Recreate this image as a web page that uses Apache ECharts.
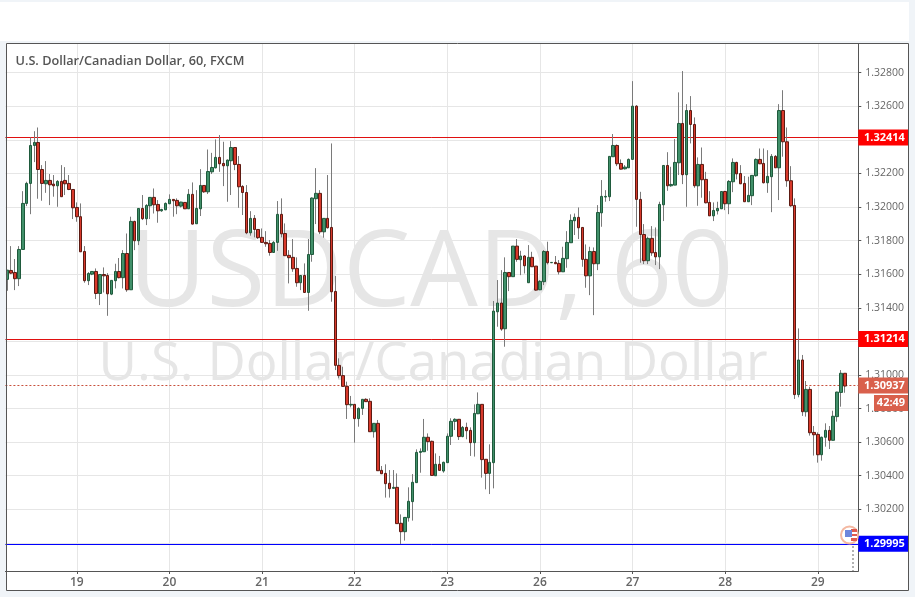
<!DOCTYPE html>
<html>
<head>
<meta charset="utf-8">
<style>html,body{margin:0;padding:0;background:#fff}#chart{width:915px;height:597px}</style>
<script src="https://cdn.jsdelivr.net/npm/echarts@6/dist/echarts.min.js"></script>
</head>
<body>
<div id="chart"></div>
<script>
const dayLabels = ['19','20','21','22','23','26','27','28','29'];
const firstDayIndex = 18;
const barsPerDay = 24;
const slotCount = 221;
const priceTicks = [1.3,1.302,1.304,1.306,1.308,1.31,1.312,1.314,1.316,1.318,1.32,1.322,1.324,1.326,1.328];
const levelLines = [1.32414, 1.31214, 1.29995];
const lastPrice = 1.30937;
const countdown = '42:49';
const opens = [
1.31569,1.31622,1.31610,1.31573,1.31747,1.32021,1.32140,1.32366,1.32384,1.32223,
1.32138,1.32158,1.32136,1.32126,1.32152,1.32158,1.32140,1.32104,1.31997,1.31942,
1.31735,1.31561,1.31600,1.31616,1.31485,1.31598,1.31592,1.31481,1.31561,1.31616,
1.31579,1.31723,1.31507,1.31914,1.31799,1.31991,1.31930,1.32007,1.32057,1.32015,
1.31977,1.31983,1.32019,1.32045,1.32039,1.32005,1.32027,1.31989,1.32075,1.31900,
1.31989,1.32128,1.32090,1.32209,1.32233,1.32295,1.32259,1.32245,1.32275,1.32354,
1.32253,1.32122,1.32086,1.31846,1.31932,1.31866,1.31819,1.31789,1.31783,1.31729,
1.31789,1.31956,1.31842,1.31712,1.31700,1.31634,1.31549,1.31592,1.31491,1.31717,
1.32049,1.32081,1.31852,1.31932,1.31878,1.31497,1.31057,1.30996,1.30932,1.30821,
1.30825,1.30740,1.30801,1.30855,1.30843,1.30662,1.30712,1.30432,1.30414,1.30355,
1.30325,1.30331,1.30117,1.30067,1.30150,1.30246,1.30359,1.30539,1.30543,1.30629,
1.30605,1.30400,1.30468,1.30428,1.30478,1.30635,1.30724,1.30736,1.30633,1.30688,
1.30670,1.30597,1.30769,1.30825,1.30498,1.30414,1.30478,1.31376,1.31428,1.31275,
1.31610,1.31585,1.31767,1.31686,1.31708,1.31549,1.31700,1.31648,1.31507,1.31555,
1.31735,1.31668,1.31670,1.31664,1.31614,1.31692,1.31787,1.31918,1.31938,1.31878,
1.31688,1.31590,1.31735,1.31662,1.31965,1.32059,1.32061,1.32299,1.32366,1.32259,
1.32227,1.32233,1.32283,1.32600,1.32045,1.31836,1.31680,1.31813,1.31729,1.31703,
1.32013,1.32247,1.32126,1.32130,1.32263,1.32497,1.32192,1.32574,1.32491,1.32126,
1.32253,1.32164,1.32027,1.31947,1.31977,1.31989,1.32092,1.32019,1.32150,1.32265,
1.32199,1.32140,1.32031,1.32067,1.32186,1.32283,1.32259,1.32144,1.32180,1.32301,
1.32233,1.32574,1.32388,1.32156,1.32009,1.30883,1.31089,1.30781,1.30914,1.30658,
1.30646,1.30525,1.30629,1.30670,1.30611,1.30752,1.30896,1.31010];
const closes = [
1.31624,1.31606,1.31573,1.31747,1.32021,1.32140,1.32366,1.32384,1.32223,1.32140,
1.32158,1.32132,1.32126,1.32152,1.32061,1.32138,1.32104,1.31995,1.31942,1.31733,
1.31561,1.31604,1.31616,1.31485,1.31598,1.31590,1.31483,1.31563,1.31616,1.31579,
1.31723,1.31507,1.31914,1.31799,1.31991,1.31930,1.32009,1.32057,1.32013,1.31977,
1.31985,1.32021,1.32045,1.32037,1.32007,1.32029,1.31989,1.32075,1.31898,1.31991,
1.32128,1.32090,1.32211,1.32235,1.32295,1.32257,1.32245,1.32279,1.32354,1.32253,
1.32120,1.32086,1.31846,1.31932,1.31866,1.31817,1.31789,1.31781,1.31729,1.31789,
1.31956,1.31840,1.31710,1.31698,1.31632,1.31549,1.31592,1.31491,1.31717,1.32053,
1.32081,1.31852,1.31932,1.31876,1.31495,1.31057,1.30996,1.30932,1.30823,1.30825,
1.30740,1.30801,1.30855,1.30841,1.30662,1.30712,1.30430,1.30412,1.30353,1.30323,
1.30331,1.30115,1.30067,1.30152,1.30248,1.30361,1.30539,1.30545,1.30629,1.30603,
1.30402,1.30468,1.30432,1.30480,1.30635,1.30724,1.30736,1.30633,1.30688,1.30668,
1.30597,1.30771,1.30825,1.30496,1.30414,1.30480,1.31380,1.31428,1.31273,1.31610,
1.31585,1.31767,1.31688,1.31708,1.31650,1.31700,1.31644,1.31505,1.31557,1.31735,
1.31668,1.31670,1.31662,1.31614,1.31694,1.31789,1.31920,1.31938,1.31876,1.31688,
1.31590,1.31735,1.31662,1.31967,1.32063,1.32063,1.32301,1.32366,1.32257,1.32225,
1.32237,1.32283,1.32600,1.32045,1.31836,1.31680,1.31813,1.31727,1.31703,1.32015,
1.32247,1.32126,1.32134,1.32265,1.32497,1.32192,1.32574,1.32491,1.32126,1.32253,
1.32162,1.32025,1.31947,1.31979,1.31991,1.32092,1.32019,1.32152,1.32265,1.32197,
1.32138,1.32031,1.32069,1.32188,1.32283,1.32257,1.32144,1.32182,1.32301,1.32233,
1.32574,1.32388,1.32156,1.32007,1.30883,1.31089,1.30781,1.30914,1.30656,1.30644,
1.30525,1.30629,1.30670,1.30611,1.30754,1.30898,1.31010,1.30934];
const lows = [
1.31501,1.31600,1.31505,1.31529,1.31747,1.32005,1.31957,1.32267,1.32049,1.32037,
1.32084,1.32011,1.32061,1.32001,1.32061,1.32071,1.32100,1.31928,1.31912,1.31733,
1.31549,1.31535,1.31594,1.31452,1.31416,1.31491,1.31352,1.31475,1.31515,1.31575,
1.31515,1.31495,1.31507,1.31743,1.31773,1.31922,1.31892,1.31928,1.31961,1.31906,
1.31971,1.31981,1.32017,1.31942,1.31957,1.31997,1.31989,1.31989,1.31896,1.31900,
1.31946,1.32084,1.32077,1.32196,1.32229,1.32209,1.32124,1.32031,1.32071,1.32219,
1.31995,1.31952,1.31838,1.31829,1.31819,1.31809,1.31787,1.31763,1.31710,1.31727,
1.31739,1.31819,1.31708,1.31545,1.31614,1.31525,1.31505,1.31491,1.31382,1.31674,
1.31898,1.31838,1.31817,1.31872,1.31436,1.31029,1.30980,1.30930,1.30738,1.30807,
1.30597,1.30692,1.30762,1.30841,1.30662,1.30627,1.30430,1.30410,1.30270,1.30270,
1.30325,1.30115,1.29994,1.30014,1.30127,1.30133,1.30359,1.30418,1.30543,1.30549,
1.30402,1.30400,1.30430,1.30418,1.30478,1.30583,1.30672,1.30613,1.30629,1.30617,
1.30518,1.30514,1.30767,1.30389,1.30319,1.30291,1.30325,1.31287,1.31263,1.31168,
1.31499,1.31585,1.31674,1.31594,1.31604,1.31549,1.31644,1.31501,1.31505,1.31535,
1.31658,1.31666,1.31660,1.31598,1.31614,1.31638,1.31787,1.31833,1.31809,1.31644,
1.31519,1.31475,1.31356,1.31624,1.31882,1.32031,1.32035,1.32299,1.32243,1.32223,
1.32223,1.32233,1.32283,1.31882,1.31668,1.31660,1.31660,1.31709,1.31654,1.31630,
1.31916,1.32096,1.32120,1.32130,1.32190,1.32136,1.32001,1.32378,1.32114,1.32007,
1.32055,1.32021,1.31947,1.31916,1.31955,1.31989,1.31981,1.31957,1.32088,1.32164,
1.32136,1.32031,1.32031,1.32011,1.32180,1.32255,1.32140,1.32084,1.31969,1.32233,
1.32041,1.32299,1.32120,1.32001,1.30857,1.30867,1.30756,1.30752,1.30639,1.30520,
1.30478,1.30490,1.30573,1.30559,1.30611,1.30722,1.30811,1.30894];
const highs = [
1.31624,1.31767,1.31690,1.31767,1.32094,1.32150,1.32414,1.32451,1.32473,1.32249,
1.32273,1.32196,1.32190,1.32160,1.32249,1.32237,1.32190,1.32104,1.32027,1.32021,
1.31767,1.31612,1.31616,1.31634,1.31598,1.31640,1.31606,1.31563,1.31662,1.31696,
1.31743,1.31842,1.31942,1.31918,1.31991,1.32071,1.32017,1.32057,1.32110,1.32041,
1.31989,1.32027,1.32075,1.32045,1.32051,1.32031,1.32027,1.32106,1.32146,1.32100,
1.32225,1.32128,1.32342,1.32322,1.32402,1.32428,1.32388,1.32283,1.32392,1.32354,
1.32303,1.32130,1.32130,1.31975,1.31952,1.31866,1.31872,1.31856,1.31803,1.31797,
1.32035,1.32051,1.31902,1.31743,1.31809,1.31700,1.31592,1.31664,1.31809,1.32057,
1.32231,1.32100,1.31932,1.32190,1.32378,1.31589,1.31099,1.31049,1.30960,1.30875,
1.30825,1.30807,1.30855,1.30861,1.30861,1.30712,1.30732,1.30458,1.30468,1.30434,
1.30434,1.30414,1.30170,1.30152,1.30331,1.30410,1.30557,1.30563,1.30738,1.30652,
1.30609,1.30533,1.30518,1.30484,1.30652,1.30742,1.30742,1.30736,1.30696,1.30716,
1.30688,1.30825,1.30896,1.30825,1.30498,1.30587,1.31440,1.31565,1.31624,1.31700,
1.31610,1.31767,1.31809,1.31739,1.31713,1.31773,1.31733,1.31648,1.31565,1.31743,
1.31793,1.31672,1.31708,1.31684,1.31763,1.31856,1.31956,1.31961,1.31997,1.31878,
1.31777,1.31763,1.31759,1.32011,1.32160,1.32100,1.32301,1.32434,1.32372,1.32283,
1.32249,1.32289,1.32749,1.32606,1.32090,1.31898,1.31823,1.31886,1.31878,1.32031,
1.32247,1.32326,1.32239,1.32404,1.32682,1.32809,1.32612,1.32660,1.32533,1.32295,
1.32354,1.32209,1.32094,1.32027,1.32031,1.32092,1.32096,1.32160,1.32289,1.32269,
1.32249,1.32184,1.32180,1.32188,1.32289,1.32348,1.32348,1.32338,1.32315,1.32309,
1.32612,1.32695,1.32473,1.32243,1.32051,1.31277,1.31119,1.30964,1.30930,1.30696,
1.30658,1.30633,1.30712,1.30696,1.30787,1.30900,1.31029,1.31010];

const FONT = '"Open Sans", sans-serif';
const slots = Array.from({length: slotCount}, (_, i) => {
  const k = (i - firstDayIndex) / barsPerDay;
  return Number.isInteger(k) && k >= 0 && k < dayLabels.length ? dayLabels[k] : '';
});
const wickData = opens.map((o, i) => [o, closes[i], lows[i], highs[i]]);
const bodyData = opens.map((o, i) => [o, closes[i], Math.min(o, closes[i]), Math.max(o, closes[i])]);
const isDay = (i, v) => v !== '';

const levelSeries = (name, value, lineColor, badgeColor, lineType) => ({
  name, type: 'line', data: [], z: 1, color: lineColor, silent: true,
  markLine: {
    silent: true, symbol: 'none', z: 1, animation: false, precision: 5,
    lineStyle: {color: lineColor, width: 1, type: lineType, opacity: 1},
    label: {
      show: true, position: 'end', distance: 0, color: '#fff', fontFamily: FONT, fontSize: 11, fontWeight: 'bold',
      backgroundColor: badgeColor, width: 50, height: 16, lineHeight: 16, align: 'left', verticalAlign: 'middle', padding: 0,
      formatter: (p) => '  ' + Number(p.value).toFixed(5)
    },
    data: [{yAxis: value}]
  }
});

const chart = echarts.init(document.getElementById('chart'), null, {renderer: 'canvas'});
chart.setOption({
  animation: false,
  backgroundColor: '#ffffff',
  grid: {left: 5.4, width: 852.9, top: 44, height: 527, containLabel: false},
  xAxis: {
    type: 'category', data: slots, boundaryGap: true,
    axisLine: {show: true, lineStyle: {color: '#555555', width: 1}},
    axisTick: {show: true, alignWithLabel: true, interval: isDay, length: 3, lineStyle: {color: '#555555'}},
    axisLabel: {show: true, interval: isDay, color: '#666666', fontFamily: FONT, fontSize: 12, fontWeight: 600, margin: 6},
    splitLine: {show: true, alignWithLabel: true, interval: isDay, lineStyle: {color: '#e6e6e6', width: 1}}
  },
  yAxis: {
    type: 'value', position: 'right', min: 1.29833, max: 1.3297, scale: true,
    axisLine: {show: true, lineStyle: {color: '#555555', width: 1}},
    axisTick: {show: true, customValues: priceTicks, length: 3, lineStyle: {color: '#555555'}},
    axisLabel: {show: true, customValues: priceTicks, color: '#666666', fontFamily: FONT, fontSize: 10.5, margin: 7,
      formatter: (v) => v.toFixed(5)},
    splitLine: {show: true, lineStyle: {color: '#e6e6e6', width: 1}}
  },
  series: [
    levelSeries('resistance', levelLines[0], '#e01010', '#ff0000', 'solid'),
    levelSeries('pivot', levelLines[1], '#e01010', '#ff0000', 'solid'),
    levelSeries('support', levelLines[2], '#0000ff', '#0000ff', 'solid'),
    levelSeries('last', lastPrice, '#c8503c', '#d9604c', [2, 2]),
    {
      name: 'wicks', type: 'candlestick', data: wickData, barWidth: 1, z: 2,
      itemStyle: {color: '#7a7a7a', color0: '#7a7a7a', borderColor: '#7a7a7a', borderColor0: '#7a7a7a', borderColorDoji: '#7a7a7a', borderWidth: 1}
    },
    {
      name: 'USDCAD', type: 'candlestick', data: bodyData, barWidth: 3, z: 3,
      itemStyle: {color: '#41906a', color0: '#d8392b', borderColor: '#1f5a3c', borderColor0: '#5c1a12', borderColorDoji: '#1f5a3c', borderWidth: 1}
    }
  ],
  graphic: [
    {type: 'rect', silent: true, z: -10, shape: {x: 0, y: 41, width: 6, height: 556}, style: {fill: '#f0f4f8'}},
    {type: 'rect', silent: true, z: -10, shape: {x: 0, y: 41, width: 915, height: 2}, style: {fill: '#f0f4f8'}},
    {type: 'rect', silent: true, z: -10, shape: {x: 909, y: 0, width: 6, height: 597}, style: {fill: '#f0f4f8'}},
    {type: 'rect', silent: true, z: -10, shape: {x: 0, y: 591, width: 915, height: 6}, style: {fill: '#f0f4f8'}},
    {type: 'rect', silent: true, z: -10, shape: {x: 0, y: 0, width: 915, height: 2}, style: {fill: '#f0f4f8'}},
    {type: 'text', silent: true, z: -1, x: 431, y: 276, style: {text: 'USDCAD, 60', fontFamily: FONT, fontSize: 107, fill: '#e6e6e6', textAlign: 'center', textVerticalAlign: 'middle'}},
    {type: 'text', silent: true, z: -1, x: 433, y: 365, style: {text: 'U.S. Dollar/Canadian Dollar', fontFamily: FONT, fontSize: 52.8, fill: '#e6e6e6', textAlign: 'center', textVerticalAlign: 'middle'}},
    {type: 'text', silent: true, z: 10, x: 15.5, y: 61.5, style: {text: 'U.S. Dollar/Canadian Dollar, 60, FXCM', fontFamily: FONT, fontSize: 12.7, fontWeight: 600, fill: '#555555', textVerticalAlign: 'middle'}},
    {type: 'rect', silent: true, z: 20, shape: {x: 6.5, y: 43.5, width: 902, height: 547}, style: {fill: 'none', stroke: '#555555', lineWidth: 1}},
    {type: 'rect', silent: true, z: 20, shape: {x: 874, y: 395, width: 34, height: 16}, style: {fill: '#d9604c'}},
    {type: 'text', silent: true, z: 21, x: 891, y: 403, style: {text: countdown, fontFamily: FONT, fontSize: 11, fontWeight: 'bold', fill: '#ffffff', textAlign: 'center', textVerticalAlign: 'middle'}},
    {type: 'circle', silent: true, z: 15, shape: {cx: 849.5, cy: 535, r: 8.5}, style: {fill: '#ffffff', stroke: '#f4b9a2', lineWidth: 2}},
    {type: 'rect', silent: true, z: 16, shape: {x: 851, y: 529, width: 6, height: 12}, style: {fill: '#e05a50'}},
    {type: 'rect', silent: true, z: 16, shape: {x: 851, y: 532, width: 6, height: 2}, style: {fill: '#ffffff'}},
    {type: 'rect', silent: true, z: 16, shape: {x: 851, y: 536, width: 6, height: 2}, style: {fill: '#ffffff'}},
    {type: 'rect', silent: true, z: 17, shape: {x: 845, y: 530, width: 7, height: 7}, style: {fill: '#6d86dc'}},
    {type: 'line', silent: true, z: 15, shape: {x1: 853, y1: 546, x2: 853, y2: 571}, style: {stroke: '#999999', lineWidth: 1.5, lineDash: [2, 2]}}
  ]
});
</script>
</body>
</html>
